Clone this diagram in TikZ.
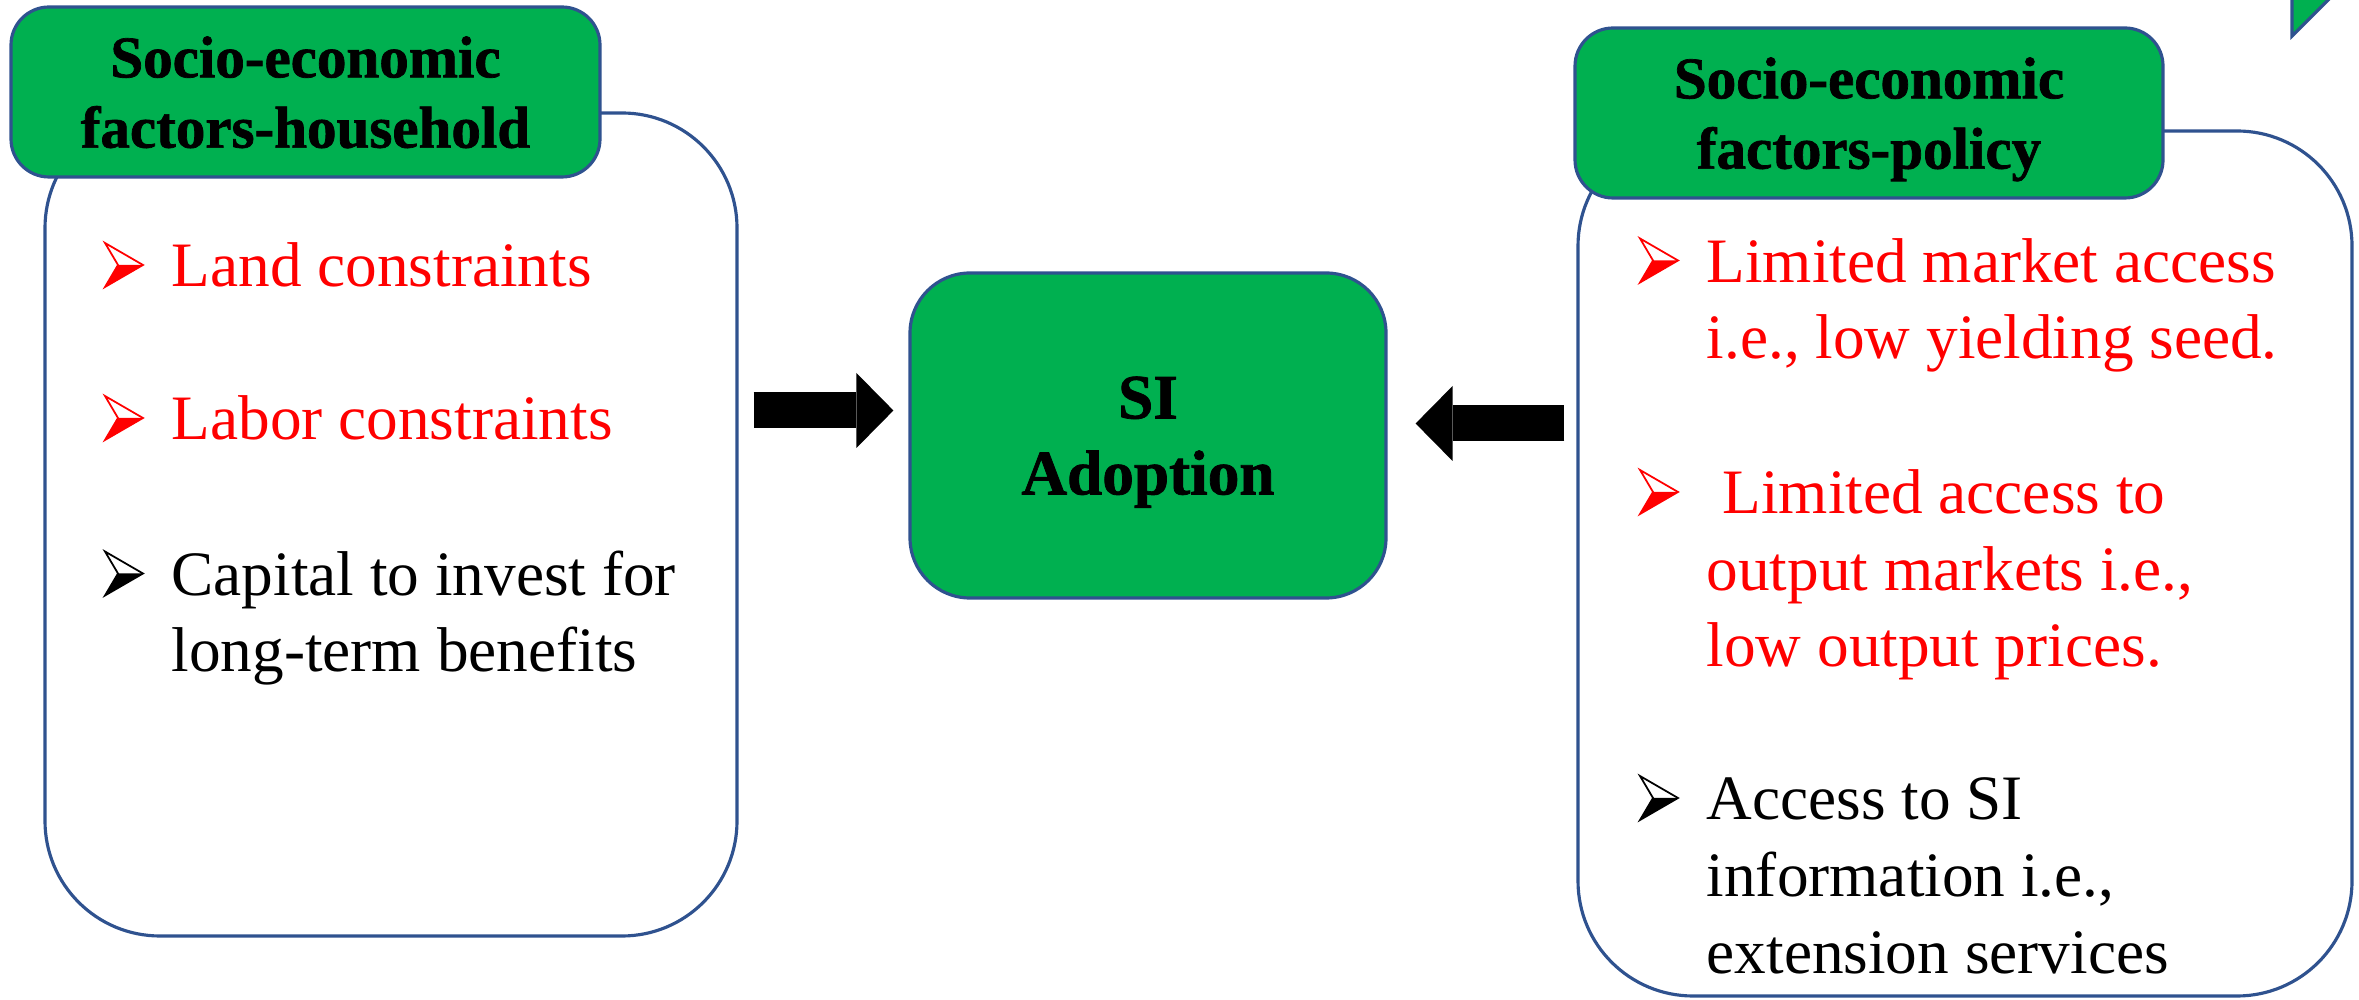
\documentclass[tikz,border=0pt]{standalone}
\usepackage{fontspec}
\setmainfont{Liberation Serif}
\newfontfamily\headfont{Liberation Serif}[BoldFeatures={FakeBold=1.2}]
\usetikzlibrary{arrows.meta,calc}
\definecolor{Leaf}{HTML}{00B050}
\definecolor{Rim}{HTML}{2F528F}
\definecolor{Alert}{HTML}{FF0000}
\tikzset{
  panelbox/.style={draw=Rim, fill=white, line width=0.9pt, rounded corners=1.15cm},
  headbox/.style={draw=Rim, fill=Leaf, line width=0.9pt, rounded corners=0.38cm, align=center, inner sep=0pt, text depth=0pt, font=\headfont\fontsize{16.8}{20}\selectfont\bfseries},
  itemtext/.style={anchor=base west, inner sep=0pt, align=left, font=\fontsize{18}{21.8}\selectfont},
  fatarrow/.style={-{Triangle[length=3.7mm,width=7.5mm,line width=0pt]}, line width=3.6mm, draw=black},
}
% 3-D arrowhead bullet, #1 = text node, #2 = colour, #3 = lines below the first
\newcommand{\arrbul}[3]{%
  \coordinate (b) at ([xshift=-6.6mm,yshift=#3*7.65mm]#1.base west);
  \fill[#2] ($(b)+(0.13,0.22)$) -- ($(b)+(0.38,0.22)$) -- (b) -- cycle;
  \draw[#2,line width=0.5pt,line join=miter] (b) -- ++(0.38,0.22) -- ++(-0.38,0.22) -- ++(0.13,-0.22) -- cycle;
}

\begin{document}
\begin{tikzpicture}[x=1cm,y=1cm]
\path[use as bounding box] (0,0) rectangle (23.59,9.99);

% household side
\node[panelbox, minimum width=6.92cm, minimum height=8.23cm] (hhbox) at (3.91,4.745) {};
\node[headbox, minimum width=5.89cm, minimum height=1.70cm] (hhhead) at (3.055,9.07) {Socio-economic\\factors-household};
\node[itemtext, text=Alert] (land) at (1.71,7.12) {Land constraints};
\node[itemtext, text=Alert] (labor) at (1.71,5.59) {Labor constraints};
\node[itemtext] (capital) at (1.71,3.27) {Capital to invest for\\long-term benefits};

% policy side
\node[panelbox, minimum width=7.74cm, minimum height=8.65cm] (plbox) at (19.65,4.355) {};
\node[headbox, minimum width=5.88cm, minimum height=1.70cm] (plhead) at (18.69,8.86) {Socio-economic\\factors-policy};
\node[itemtext, text=Alert] (market) at (17.06,6.40) {Limited market access\\i.e., low yielding seed.};
\node[itemtext, text=Alert] (outacc) at (17.06,3.32) {\ Limited access to\\output markets i.e.,\\low output prices.};
\node[itemtext] (info) at (17.06,0.26) {Access to SI\\information i.e.,\\extension services};

\foreach \nm/\col/\up in {land/Alert/0,labor/Alert/0,capital/black/1,market/Alert/1,outacc/Alert/2,info/black/2}{
  \arrbul{\nm}{\col}{\up}
}

% centre
\node[headbox, minimum width=4.76cm, minimum height=3.25cm, rounded corners=0.6cm, font=\headfont\fontsize{18}{21.6}\selectfont\bfseries] (sibox) at (11.48,5.635) {SI\\Adoption};
\coordinate (inL) at ([yshift=2.5mm]sibox.west);
\coordinate (inR) at ([yshift=1.2mm]sibox.east);
\draw[fatarrow] ([xshift=1.5mm]hhbox.east |- inL) -- ([xshift=-1.5mm]inL);
\draw[fatarrow] ([xshift=-1.2mm]plbox.west |- inR) -- ([xshift=2.8mm]inR);

% corner tab
\filldraw[fill=Leaf, draw=Rim, line width=0.9pt] (22.92,10.1) -- (22.92,9.63) -- (23.39,10.1) -- cycle;
\end{tikzpicture}
\end{document}
